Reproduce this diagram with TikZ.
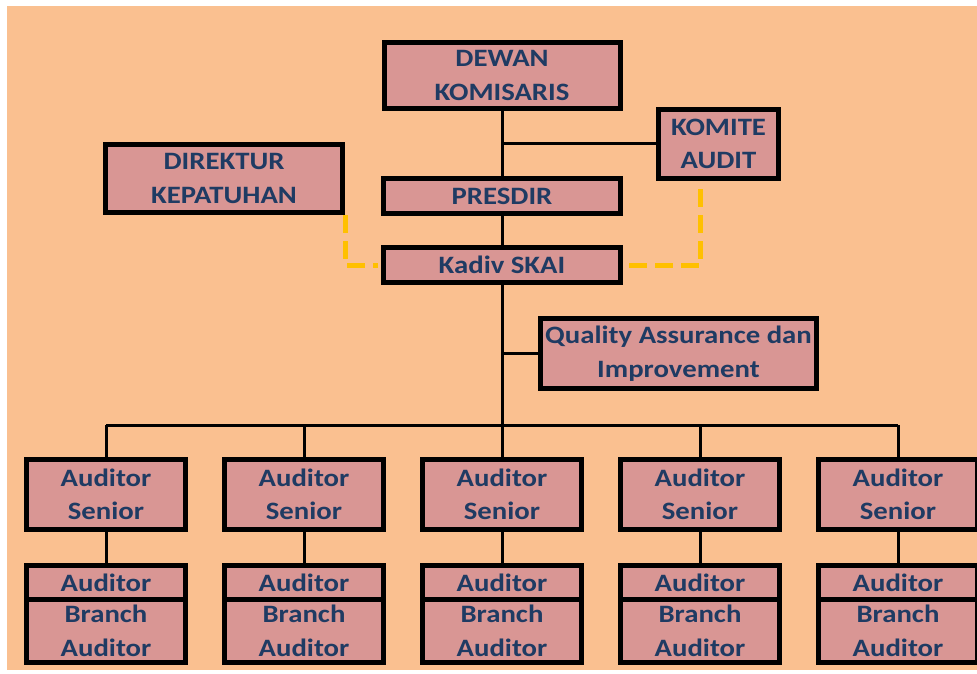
\documentclass[tikz,border=0pt]{standalone}
\usepackage{fontspec}
\setmainfont[FakeStretch=1.15]{Carlito}
\usetikzlibrary{calc}
\definecolor{bgorange}{HTML}{FAC090}
\definecolor{boxpink}{HTML}{D99694}
\definecolor{txtblue}{HTML}{1F3B63}
\definecolor{linkyellow}{HTML}{FFC000}

\tikzset{
  box/.style={draw=black, line width=5pt, fill=boxpink, inner sep=0pt,
    align=center, text=txtblue, font=\fontsize{25}{33.5}\selectfont\bfseries},
  link/.style={line width=3pt, black},
  dotlink/.style={line width=5pt, linkyellow, dash pattern=on 18pt off 8pt}
}

\begin{document}
\begin{tikzpicture}[x=1pt, y=-1pt]
                % Frame
                \useasboundingbox (0,0) rectangle (977,673);
                \fill[bgorange] (7,6) rectangle (977,670);

                % Top of the chart
                \node[box, minimum width=236, minimum height=66] (dewan) at (502,75.5) {DEWAN\\KOMISARIS};
                \node[box, minimum width=120, minimum height=69] (komite) at (718.5,144) {KOMITE\\AUDIT};
                \node[box, minimum width=237, minimum height=68] (direktur) at (224,178.5) {DIREKTUR\\KEPATUHAN};
                \node[box, minimum width=237, minimum height=35] (presdir) at (502,196) {PRESDIR};
                \node[box, minimum width=237, minimum height=35] (kadiv) at (502,265) {Kadiv SKAI};
                \node[box, minimum width=276, minimum height=70] (qa) at (678.5,353.5) {Quality Assurance dan\\Improvement};

                % Auditor columns
                \foreach \i in {1,...,5} {
                  \node[box, minimum width=159, minimum height=70] (senior\i) at ({106+198*(\i-1)},494.5) {Auditor\\Senior};
                  \node[box, minimum width=159, minimum height=34] (aud\i) at ({106+198*(\i-1)},582.5) {Auditor};
                  \node[box, minimum width=159, minimum height=63.5] (branch\i) at ({106+198*(\i-1)},630.75) {Branch\\Auditor};
                }

                % Solid lines
                \coordinate (bus) at (502,425);
                \coordinate (komitej) at (502,143);
                \draw[link] (dewan.south) -- (presdir.north);
                \draw[link] (komite.west |- komitej) -- (komitej);
                \draw[link] (presdir.south) -- (kadiv.north);
                \draw[link] (kadiv.south) -- (bus);
                \draw[link] (qa.west) -- (qa.west -| bus);
                \draw[link] (senior1.north |- bus) -- (senior5.north |- bus);
                \foreach \i in {1,...,5} {
                  \draw[link] (senior\i.north) -- (senior\i.north |- bus);
                  \draw[link] (senior\i.south) -- (aud\i.north);
                }

                % Dashed lines
                \coordinate (komitefoot) at ($(komite.south)+(-18,0)$);
                \draw[dotlink] (direktur.south east) -- (direktur.south east |- kadiv.west) -- ($(kadiv.west)+(-3,0)$);
                \draw[dotlink] ($(kadiv.east)+(6,0)$) -- (kadiv.east -| komitefoot) -- (komitefoot);
\end{tikzpicture}
\end{document}
